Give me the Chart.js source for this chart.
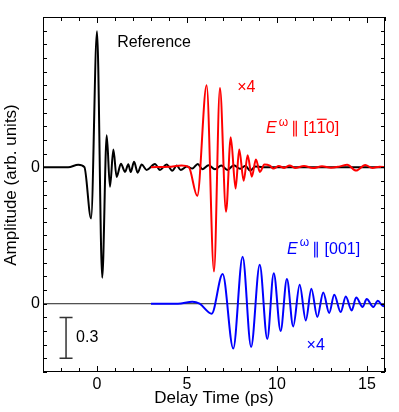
<!DOCTYPE html>
<html>
<head>
<meta charset="utf-8">
<script src="https://cdn.jsdelivr.net/npm/chart.js@4"></script>
<style>
  body { margin: 0; background: #fff; }
  canvas { display: block; }
</style>
</head>
<body>
<canvas id="waveChart" width="399" height="412"></canvas>
<script>
// delay time (ps) and amplitude, each relative to its own baseline
const refTime = [-3, -1.6, -1.04, -0.7, -0.33, 0, 0.29, 0.54, 0.72, 0.91, 1.09, 1.33, 1.56, 1.74, 1.87, 2.06, 2.26, 2.48, 2.76, 3.22, 3.5, 3.87, 4.18, 4.43, 4.65, 5.0, 5.3, 5.6, 5.85, 6.2, 6.55, 6.9, 7.25, 7.6, 7.95, 8.25, 8.5, 8.8, 9.2, 16];
const refAmp = [0, 0, 0.018, 0, -0.375, 0.995, -0.81, 0.234, -0.144, 0.129, -0.071, 0.025, -0.034, 0.022, -0.036, 0.039, -0.04, 0.02, -0.02, 0.024, -0.02, 0.02, -0.026, 0.012, -0.02, 0.005, -0.01, 0.024, -0.015, 0.015, -0.015, 0.012, -0.02, 0.015, -0.012, 0.01, -0.025, 0.005, 0, 0];

const redTime = [3, 4, 4.7, 5.1, 5.57, 6.09, 6.5, 6.83, 7.17, 7.43, 7.7, 7.9, 8.15, 8.37, 8.6, 8.83, 9.05, 9.3, 9.6, 9.8, 10.1, 10.4, 10.7, 11.0, 11.5, 12.0, 12.5, 13.0, 13.5, 13.9, 14.4, 14.9, 15.3, 15.7, 16];
const redAmp = [0, 0.003, 0.012, 0, -0.21, 0.6, -0.764, 0.58, -0.326, 0.22, -0.156, 0.13, -0.1, 0.088, -0.07, 0.056, -0.035, 0.02, 0.012, -0.01, 0.008, -0.005, 0.012, -0.005, 0.008, -0.006, 0.006, -0.004, 0.006, 0.018, -0.025, 0.016, -0.006, 0.004, 0];

const blueTime = [3, 4.5, 5.3, 5.7, 6.37, 6.98, 7.57, 8.09, 8.56, 9.04, 9.46, 9.82, 10.2, 10.55, 10.9, 11.26, 11.6, 11.91, 12.24, 12.57, 12.9, 13.18, 13.54, 13.82, 14.15, 14.4, 14.76, 14.98, 15.35, 15.6, 15.9, 16];
const blueAmp = [0, 0, 0.015, 0, -0.073, 0.217, -0.328, 0.345, -0.316, 0.285, -0.258, 0.224, -0.2, 0.182, -0.166, 0.139, -0.122, 0.109, -0.097, 0.083, -0.068, 0.066, -0.061, 0.053, -0.049, 0.046, -0.024, 0.034, -0.024, 0.022, -0.018, -0.01];

const upperOffset = 1.0;
const lowerOffset = 0.0;
const xRange = [-3, 16];
const yRange = [-0.5, 2.1];
const scaleBarSize = 0.3;

const FONT = '"Liberation Sans", Arial, Helvetica, sans-serif';

function series(times, amps, offset) {
    return times.map((t, i) => ({ x: t, y: amps[i] + offset }));
}

// scale bar and annotations, placed in data units
const annotations = {
    id: "annotations",
    afterDatasetsDraw(chart) {
        const { ctx, scales: { x, y } } = chart;
        ctx.save();
        ctx.textBaseline = "middle";

        ctx.font = "16px " + FONT;
        ctx.fillStyle = "#000";
        ctx.textAlign = "center";
        ctx.fillText("Reference", x.getPixelForValue(3.17), y.getPixelForValue(1.91));

        ctx.fillStyle = "#ff0000";
        ctx.fillText("\u00d74", x.getPixelForValue(8.3), y.getPixelForValue(1.58));
        ctx.fillStyle = "#0000ff";
        ctx.fillText("\u00d74", x.getPixelForValue(12.15), y.getPixelForValue(-0.31));

        drawField(ctx, x.getPixelForValue(9.39), y.getPixelForValue(1.285), "#ff0000", ["[1", "1", "0]"]);
        drawField(ctx, x.getPixelForValue(10.56), y.getPixelForValue(0.40), "#0000ff", ["[001]"]);

        // scale bar
        const bx = x.getPixelForValue(-1.72);
        const top = y.getPixelForValue(-0.1);
        const bot = y.getPixelForValue(-0.1 - scaleBarSize);
        ctx.strokeStyle = "#333";
        ctx.lineWidth = 1.5;
        ctx.beginPath();
        ctx.moveTo(bx, top); ctx.lineTo(bx, bot);
        ctx.moveTo(bx - 6.5, top); ctx.lineTo(bx + 6.5, top);
        ctx.moveTo(bx - 6.5, bot); ctx.lineTo(bx + 6.5, bot);
        ctx.stroke();
        ctx.fillStyle = "#000";
        ctx.textAlign = "left";
        ctx.font = "16px " + FONT;
        ctx.fillText("0.3", bx + 10, (top + bot) / 2);
        ctx.restore();
    },
    afterDraw(chart) {
        // frame and inward ticks
        const { ctx, chartArea: a, scales: { x, y } } = chart;
        ctx.save();
        ctx.strokeStyle = "#000";
        ctx.lineWidth = 1;
        ctx.strokeRect(a.left + 0.5, a.top + 0.5, a.right - a.left - 1, a.bottom - a.top - 1);
        ctx.beginPath();
        x.ticks.forEach(t => {
            const px = Math.round(x.getPixelForValue(t.value)) + 0.5;
            const len = t.value % 5 === 0 ? 6 : 4;
            ctx.moveTo(px, a.bottom); ctx.lineTo(px, a.bottom - len);
            ctx.moveTo(px, a.top); ctx.lineTo(px, a.top + len);
        });
        y.ticks.forEach(t => {
            const py = Math.round(y.getPixelForValue(t.value)) + 0.5;
            ctx.moveTo(a.left, py); ctx.lineTo(a.left + 4, py);
            ctx.moveTo(a.right, py); ctx.lineTo(a.right - 4, py);
        });
        ctx.stroke();

        // y axis title
        ctx.translate(11, 185);
        ctx.rotate(-Math.PI / 2);
        ctx.fillStyle = "#000";
        ctx.font = "17px " + FONT;
        ctx.textAlign = "center";
        ctx.textBaseline = "middle";
        ctx.fillText("Amplitude (arb. units)", 0, 0);
        ctx.restore();
    }
};

function drawField(ctx, px, py, color, parts) {
    ctx.fillStyle = color;
    ctx.strokeStyle = color;
    ctx.textAlign = "left";
    ctx.font = "italic 16px " + FONT;
    ctx.fillText("E", px, py);
    let cx = px + ctx.measureText("E").width + 2;
    ctx.font = "12px " + FONT;
    ctx.fillText("\u03c9", cx, py - 6);
    cx += ctx.measureText("\u03c9").width + 3;
    ctx.font = "16px " + FONT;
    ctx.fillText("\u2225 ", cx, py);
    cx += ctx.measureText("\u2225 ").width;
    parts.forEach((p, i) => {
        ctx.fillText(p, cx, py);
        const w = ctx.measureText(p).width;
        if (parts.length > 1 && i === 1) {
            ctx.lineWidth = 1.2;
            ctx.beginPath();
            ctx.moveTo(cx, py - 9);
            ctx.lineTo(cx + w + 1, py - 9);
            ctx.stroke();
        }
        cx += w;
    });
}

new Chart(document.getElementById("waveChart"), {
    type: "line",
    data: {
        datasets: [
            {
                label: "E || [1-10] x4",
                data: series(redTime, redAmp, upperOffset),
                borderColor: "#ff0000",
                borderWidth: 2,
                order: 0
            },
            {
                label: "E || [001] x4",
                data: series(blueTime, blueAmp, lowerOffset),
                borderColor: "#0000ff",
                borderWidth: 2,
                order: 1
            },
            {
                label: "Reference",
                data: series(refTime, refAmp, upperOffset),
                borderColor: "#000",
                borderWidth: 2,
                order: 2
            },
            {
                label: "baseline",
                data: xRange.map(t => ({ x: t, y: lowerOffset })),
                borderColor: "#222",
                borderWidth: 1,
                cubicInterpolationMode: "default",
                tension: 0,
                order: 3
            }
        ]
    },
    options: {
        responsive: false,
        animation: false,
        layout: { padding: { top: 17, right: 14, left: 0, bottom: 0 } },
        elements: {
            point: { radius: 0 },
            line: { cubicInterpolationMode: "monotone", fill: false }
        },
        plugins: { legend: { display: false }, tooltip: { enabled: false } },
        scales: {
            x: {
                type: "linear",
                min: xRange[0],
                max: xRange[1],
                grid: { display: false, drawTicks: false },
                border: { display: false },
                ticks: {
                    stepSize: 1,
                    autoSkip: false,
                    maxRotation: 0,
                    padding: 3,
                    color: "#000",
                    font: { family: FONT, size: 16 },
                    callback: v => (v % 5 === 0 ? String(v) : "")
                },
                title: {
                    display: true,
                    text: "Delay Time (ps)",
                    color: "#000",
                    font: { family: FONT, size: 17 },
                    padding: { top: 0, bottom: 3 }
                },
                afterFit: s => { s.height = 40; }
            },
            y: {
                min: yRange[0],
                max: yRange[1],
                grid: { display: false, drawTicks: false },
                border: { display: false },
                ticks: {
                    stepSize: 0.1,
                    autoSkip: false,
                    padding: 3,
                    color: "#000",
                    font: { family: FONT, size: 16 },
                    callback: v => (Math.abs(v - lowerOffset) < 1e-6 || Math.abs(v - upperOffset) < 1e-6 ? "0" : "")
                },
                afterFit: s => { s.width = 43; }
            }
        }
    },
    plugins: [annotations]
});
</script>
</body>
</html>
